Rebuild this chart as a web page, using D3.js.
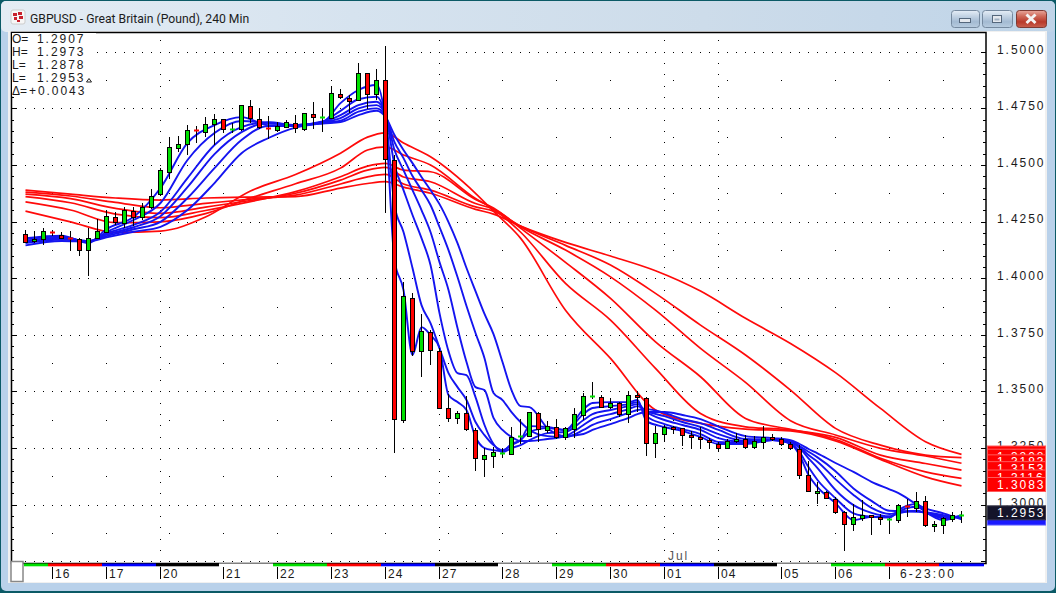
<!DOCTYPE html>
<html lang="en">
<head>
<meta charset="utf-8">
<title>GBPUSD 240 Min</title>
<script src="https://cdn.jsdelivr.net/npm/d3@7"></script>
<style>
  html, body { margin: 0; padding: 0; background: #0b5a66; overflow: hidden; }
  svg { display: block; }
  .mono { font-family: "Liberation Sans", Arial, sans-serif; font-size: 12px; letter-spacing: 1.95px; fill: #1a1a1a; }
  .axis path { display: none; }
  .axis line { stroke: #000; }
</style>
</head>
<body>
<script>
// candles, one value per 4h bar
let opens = [
  1.4194,1.4164,1.4172,1.4202,1.4192,1.4176,1.4172,1.4123,1.4176,1.4202,
  1.4269,1.4242,1.4295,1.4269,1.4313,1.4370,1.4470,1.4576,1.4591,1.4653,
  1.4644,1.4679,1.4701,1.4653,1.4657,1.4759,1.4701,1.4662,1.4653,1.4666,
  1.4684,1.4657,1.4723,1.4706,1.4706,1.4812,1.4794,1.4785,1.4904,1.4812,
  1.4873,1.4520,1.3372,1.3911,1.3677,1.3761,1.3677,1.3425,1.3381,1.3403,
  1.3329,1.3200,1.3213,1.3227,1.3222,1.3297,1.3302,1.3403,1.3328,1.3341,
  1.3297,1.3333,1.3394,1.3475,1.3474,1.3430,1.3447,1.3399,1.3483,1.3470,
  1.3271,1.3311,1.3341,1.3337,1.3306,1.3297,1.3284,1.3266,1.3249,1.3280,
  1.3288,1.3253,1.3275,1.3297,1.3288,1.3266,1.3244,1.3130,1.3053,1.3055,
  1.3024,1.2966,1.2913,1.2940,1.2953,1.2944,1.2931,1.2931,1.2993,1.2984,
  1.3015,1.2904,1.2909,1.2935,1.2948];
let highs = [
  1.4213,1.4208,1.4221,1.4213,1.4202,1.4208,1.4179,1.4220,1.4260,1.4301,
  1.4292,1.4313,1.4313,1.4332,1.4394,1.4486,1.4622,1.4628,1.4676,1.4672,
  1.4711,1.4723,1.4703,1.4684,1.4764,1.4787,1.4750,1.4715,1.4688,1.4697,
  1.4719,1.4729,1.4778,1.4750,1.4847,1.4834,1.4809,1.4950,1.4904,1.4923,
  1.5025,1.4544,1.3983,1.3933,1.3840,1.3770,1.3692,1.3487,1.3415,1.3478,
  1.3337,1.3249,1.3255,1.3249,1.3341,1.3377,1.3409,1.3409,1.3368,1.3377,
  1.3341,1.3425,1.3492,1.3540,1.3484,1.3469,1.3452,1.3499,1.3503,1.3474,
  1.3347,1.3349,1.3349,1.3338,1.3324,1.3341,1.3293,1.3275,1.3288,1.3315,
  1.3306,1.3302,1.3346,1.3311,1.3297,1.3275,1.3262,1.3191,1.3099,1.3059,
  1.3032,1.2971,1.3001,1.3019,1.2954,1.2961,1.2940,1.3001,1.3024,1.3055,
  1.3037,1.2926,1.2944,1.2966,1.2973];
let lows = [
  1.4155,1.4155,1.4148,1.4186,1.4172,1.4121,1.4099,1.4011,1.4172,1.4198,
  1.4235,1.4223,1.4232,1.4257,1.4304,1.4363,1.4436,1.4558,1.4544,1.4598,
  1.4624,1.4588,1.4642,1.4639,1.4651,1.4684,1.4657,1.4613,1.4644,1.4662,
  1.4639,1.4651,1.4657,1.4644,1.4701,1.4790,1.4730,1.4785,1.4745,1.4787,
  1.4289,1.3229,1.3359,1.3655,1.3565,1.3618,1.3421,1.3366,1.3357,1.3326,
  1.3150,1.3121,1.3160,1.3205,1.3222,1.3266,1.3297,1.3275,1.3315,1.3288,
  1.3284,1.3293,1.3372,1.3465,1.3425,1.3421,1.3386,1.3362,1.3410,1.3216,
  1.3207,1.3275,1.3311,1.3258,1.3249,1.3244,1.3249,1.3234,1.3244,1.3271,
  1.3244,1.3244,1.3249,1.3280,1.3258,1.3240,1.3112,1.3055,1.3001,1.3024,
  1.2957,1.2797,1.2885,1.2926,1.2866,1.2909,1.2875,1.2918,1.2944,1.2966,
  1.2900,1.2881,1.2875,1.2922,1.2920];
let closes = [
  1.4161,1.4172,1.4207,1.4198,1.4179,1.4172,1.4123,1.4179,1.4207,1.4273,
  1.4247,1.4300,1.4269,1.4315,1.4361,1.4476,1.4579,1.4591,1.4653,1.4648,
  1.4679,1.4701,1.4657,1.4657,1.4763,1.4706,1.4666,1.4657,1.4670,1.4688,
  1.4662,1.4728,1.4710,1.4710,1.4816,1.4799,1.4783,1.4904,1.4812,1.4873,
  1.4525,1.3377,1.3920,1.3677,1.3765,1.3682,1.3425,1.3381,1.3403,1.3333,
  1.3205,1.3218,1.3231,1.3229,1.3297,1.3302,1.3408,1.3333,1.3346,1.3297,
  1.3337,1.3399,1.3478,1.3478,1.3430,1.3447,1.3399,1.3483,1.3474,1.3271,
  1.3315,1.3341,1.3334,1.3306,1.3297,1.3288,1.3275,1.3249,1.3280,1.3288,
  1.3253,1.3280,1.3297,1.3288,1.3266,1.3249,1.3130,1.3059,1.3059,1.3028,
  1.2966,1.2913,1.2944,1.2953,1.2947,1.2935,1.2935,1.2997,1.2988,1.3015,
  1.2909,1.2913,1.2940,1.2953,1.2953];

// long averages (red), read at these bars, slowest to fastest
let redBars = [0,5,10,15,20,25,30,35,38,40,42,45,50,52,55,60,65,70,75,80,85,90,95,100,104];
let redValues = [
  [1.4389,1.4380,1.4371,1.4360,1.4337,1.4296],
  [1.4371,1.4363,1.4351,1.4333,1.4301,1.4249],
  [1.4354,1.4335,1.4308,1.4283,1.4245,1.4202],
  [1.4345,1.4311,1.4286,1.4267,1.4249,1.4208],
  [1.4354,1.4330,1.4314,1.4299,1.4285,1.4270],
  [1.4358,1.4349,1.4343,1.4338,1.4354,1.4385],
  [1.4360,1.4367,1.4375,1.4382,1.4417,1.4458],
  [1.4398,1.4416,1.4433,1.4448,1.4486,1.4552],
  [1.4418,1.4447,1.4477,1.4495,1.4566,1.4623],
  [1.4426,1.4458,1.4489,1.4507,1.4580,1.4642],
  [1.4402,1.4416,1.4447,1.4477,1.4544,1.4597],
  [1.4375,1.4389,1.4426,1.4470,1.4500,1.4536],
  [1.4304,1.4315,1.4330,1.4348,1.4352,1.4375],
  [1.4283,1.4296,1.4305,1.4310,1.4305,1.4296],
  [1.4230,1.4230,1.4227,1.4221,1.4204,1.4177],
  [1.4158,1.4145,1.4124,1.4070,1.3977,1.3859],
  [1.4098,1.4058,1.4006,1.3911,1.3815,1.3646],
  [1.4033,1.3933,1.3859,1.3719,1.3602,1.3418],
  [1.3943,1.3793,1.3690,1.3565,1.3403,1.3359],
  [1.3823,1.3661,1.3540,1.3381,1.3344,1.3334],
  [1.3712,1.3506,1.3371,1.3333,1.3330,1.3326],
  [1.3583,1.3337,1.3308,1.3297,1.3288,1.3282],
  [1.3425,1.3263,1.3249,1.3219,1.3205,1.3200],
  [1.3278,1.3219,1.3215,1.3182,1.3145,1.3123],
  [1.3222,1.3208,1.3183,1.3153,1.3116,1.3083]];

// short averages (blue), read at these bars, fastest to slowest
let blueBars = [0,4,7,9,12,15,18,21,24,27,30,33,35,37,39,40,41,42,43,44,45,46,47,48,49,50,51,52,53,54,55,56,
  58,60,62,63,65,67,68,69,71,73,75,77,80,83,85,86,87,88,90,92,94,96,97,99,100,102,104];
let blueValues = [
  [1.4177,1.4173,1.4166,1.4162,1.4155,1.4145],
  [1.4188,1.4184,1.4179,1.4175,1.4171,1.4164],
  [1.4155,1.4160,1.4162,1.4164,1.4164,1.4162],
  [1.4217,1.4204,1.4198,1.4192,1.4186,1.4180],
  [1.4270,1.4257,1.4235,1.4225,1.4216,1.4205],
  [1.4398,1.4332,1.4293,1.4274,1.4249,1.4227],
  [1.4597,1.4522,1.4442,1.4402,1.4354,1.4301],
  [1.4676,1.4641,1.4588,1.4548,1.4486,1.4420],
  [1.4711,1.4694,1.4667,1.4645,1.4610,1.4552],
  [1.4676,1.4685,1.4689,1.4687,1.4672,1.4619],
  [1.4676,1.4676,1.4676,1.4674,1.4672,1.4665],
  [1.4689,1.4692,1.4689,1.4687,1.4685,1.4683],
  [1.4773,1.4739,1.4720,1.4707,1.4695,1.4689],
  [1.4831,1.4790,1.4764,1.4750,1.4735,1.4720],
  [1.4853,1.4801,1.4779,1.4764,1.4750,1.4739],
  [1.4689,1.4709,1.4723,1.4721,1.4716,1.4712],
  [1.4080,1.4323,1.4500,1.4566,1.4601,1.4632],
  [1.3948,1.4204,1.4389,1.4477,1.4530,1.4566],
  [1.3661,1.4045,1.4279,1.4389,1.4451,1.4508],
  [1.3784,1.3881,1.4177,1.4301,1.4389,1.4447],
  [1.3749,1.3802,1.4058,1.4204,1.4323,1.4389],
  [1.3692,1.3692,1.3846,1.4071,1.4226,1.4327],
  [1.3484,1.3581,1.3678,1.3948,1.4124,1.4248],
  [1.3453,1.3519,1.3581,1.3780,1.4005,1.4155],
  [1.3418,1.3462,1.3572,1.3630,1.3877,1.4045],
  [1.3299,1.3365,1.3475,1.3519,1.3758,1.3943],
  [1.3250,1.3307,1.3352,1.3506,1.3647,1.3842],
  [1.3241,1.3263,1.3268,1.3383,1.3493,1.3753],
  [1.3237,1.3241,1.3232,1.3330,1.3462,1.3630],
  [1.3268,1.3263,1.3250,1.3299,1.3409,1.3506],
  [1.3285,1.3285,1.3263,1.3281,1.3365,1.3435],
  [1.3347,1.3321,1.3285,1.3281,1.3330,1.3431],
  [1.3343,1.3338,1.3316,1.3290,1.3303,1.3338],
  [1.3330,1.3330,1.3321,1.3303,1.3299,1.3303],
  [1.3422,1.3400,1.3374,1.3352,1.3330,1.3312],
  [1.3449,1.3427,1.3400,1.3378,1.3352,1.3330],
  [1.3453,1.3435,1.3418,1.3400,1.3378,1.3356],
  [1.3453,1.3444,1.3435,1.3422,1.3405,1.3383],
  [1.3462,1.3453,1.3444,1.3435,1.3418,1.3400],
  [1.3369,1.3391,1.3409,1.3413,1.3422,1.3409],
  [1.3343,1.3356,1.3374,1.3391,1.3405,1.3409],
  [1.3325,1.3334,1.3352,1.3365,1.3378,1.3396],
  [1.3299,1.3312,1.3330,1.3343,1.3360,1.3378],
  [1.3268,1.3277,1.3294,1.3312,1.3330,1.3345],
  [1.3268,1.3272,1.3277,1.3281,1.3290,1.3303],
  [1.3285,1.3285,1.3285,1.3285,1.3288,1.3294],
  [1.3268,1.3272,1.3277,1.3279,1.3281,1.3285],
  [1.3219,1.3232,1.3250,1.3256,1.3259,1.3268],
  [1.3131,1.3166,1.3205,1.3219,1.3234,1.3246],
  [1.3078,1.3109,1.3162,1.3190,1.3209,1.3227],
  [1.3007,1.3029,1.3065,1.3113,1.3148,1.3184],
  [1.2932,1.2962,1.2998,1.3043,1.3072,1.3145],
  [1.2947,1.2947,1.2964,1.2986,1.3017,1.3101],
  [1.2944,1.2944,1.2949,1.2959,1.2973,1.3068],
  [1.2976,1.2969,1.2962,1.2966,1.2972,1.3051],
  [1.3003,1.2991,1.2973,1.2972,1.2969,1.3003],
  [1.2969,1.2969,1.2962,1.2964,1.2967,1.2984],
  [1.2932,1.2940,1.2947,1.2950,1.2954,1.2962],
  [1.2954,1.2950,1.2947,1.2944,1.2940,1.2935]];

// axes
let priceLabels = [1.5,1.475,1.45,1.425,1.4,1.375,1.35,1.325,1.3];
let priceMajor = [1.5,1.475,1.45,1.425,1.4,1.375,1.35,1.325,1.3,1.275];
let priceMinor = [1.495,1.49,1.485,1.48,1.47,1.465,1.46,1.455,1.445,1.44,1.435,1.43,1.42,1.415,1.41,1.405,
  1.395,1.39,1.385,1.38,1.37,1.365,1.36,1.355,1.345,1.34,1.335,1.33,1.32,1.315,1.31,1.305,1.295,1.29,1.285,1.28];
let priceMid = [1.4875,1.4625,1.4375,1.4125,1.3875,1.3625,1.3375,1.3125,1.2875];
let dayBars = [3,9,15,22,28,34,40,46,53,59,65,71,77,84,90,96];
let dayLabels = ["16","17","20","21","22","23","24","27","28","29","30","01","04","05","06","6-23:00"];
let stripEnds = [3,9,15,22,28,34,40,46,53,59,65,71,77,84,90,96,102];
let stripColors = ["#00e000","#ff0000","#0000ff","#000000","#ffffff"];
let denseBars = [15,46,71,77];
let sparseBars = [3,9,16,22,28,34,40,47,53,59,65,72,78,84,90,96,102];
let readoutNames = ["O=","H=","L=","L=","Δ="];
let readoutValues = ["1.2907","1.2973","1.2878","1.2953","+0.0043"];
let lastPrice = 1.2953;

let w = 1056, h = 593;

let xScale = d3.scaleLinear().domain([0,104]).range([25.5,961.5]);
let yScale = d3.scaleLinear().domain([1.5,1.3]).range([51.7,504.7]);
let yRound = yScale.copy().interpolate(d3.interpolateRound);

let svg = d3.select("body").append("svg").attr("width",w).attr("height",h);
let defs = svg.append("defs");

function grad(id, stops, horiz) {
  let g = defs.append("linearGradient").attr("id",id)
    .attr("x1",0).attr("y1",0).attr("x2",horiz ? 1 : 0).attr("y2",horiz ? 0 : 1);
  stops.forEach((s,i) => g.append("stop").attr("offset",i/(stops.length-1)).attr("stop-color",s));
}
grad("frame",["#e4ecf4","#d6e3ef","#cddcea","#bfd4e8"],true);
grad("btn",["#e6eef7","#c3d3e4","#a3bad2","#b9cde0"]);
grad("btnClose",["#e8a79c","#cf6a5a","#b8392a","#c8604f"]);

// window frame
svg.append("rect").attr("width",w).attr("height",h).attr("fill","#0b5a66");
svg.append("rect").attr("x",1).attr("y",1).attr("width",w-2).attr("height",h-3).attr("rx",5).attr("fill","#b9d1ea");
svg.append("rect").attr("x",1).attr("y",1).attr("width",w-2).attr("height",31).attr("rx",5).attr("fill","url(#frame)");
svg.append("rect").attr("x",8).attr("y",31).attr("width",1039).attr("height",552).attr("fill","#f0f0f0");
svg.append("rect").attr("x",11).attr("y",32).attr("width",1034).attr("height",550).attr("fill","#fff");

// title + icon
let icon = svg.append("g").attr("transform","translate(11,10)");
icon.append("rect").attr("width",14).attr("height",14).attr("rx",2).attr("fill","#f6f6f6").attr("stroke","#ccc");
[[2,3,4,3],[7,2,4,3],[3,7,3,3],[8,6,4,3],[6,10,3,2]].forEach(b => {
  icon.append("rect").attr("x",b[0]).attr("y",b[1]).attr("width",b[2]).attr("height",b[3]).attr("fill","#c8202c");
});
svg.append("text").attr("x",30).attr("y",22.5)
  .style("font-family",'Roboto, "Open Sans", sans-serif').style("font-size","12.2px").style("fill","#1c1c1c")
  .text("GBPUSD - Great Britain (Pound), 240 Min");

// window buttons
function winButton(x, width, fill, stroke) {
  svg.append("rect").attr("x",x+0.5).attr("y",10.5).attr("width",width).attr("height",17).attr("rx",3)
    .attr("fill",fill).attr("stroke",stroke);
}
winButton(951,28,"url(#btn)","#75899f");
winButton(982,30,"url(#btn)","#75899f");
winButton(1016,30,"url(#btnClose)","#7d3a33");
svg.append("rect").attr("x",959.5).attr("y",18.5).attr("width",11).attr("height",4).attr("fill","#e4e8ee").attr("stroke","#55677c");
svg.append("rect").attr("x",992.5).attr("y",15.5).attr("width",9).attr("height",7).attr("fill","#e4e8ee").attr("stroke","#55677c");
svg.append("rect").attr("x",994.5).attr("y",18.5).attr("width",5).attr("height",2).attr("fill","#9fb0c2");
svg.append("path").attr("d","M1026.5,14.5 L1035.5,23 M1035.5,14.5 L1026.5,23")
  .attr("stroke","#f4f4f4").attr("stroke-width",3).attr("fill","none");

// dotted grid
let gridG = svg.append("g").attr("fill","#000");
function dot(x,y) {
  gridG.append("rect").attr("x",Math.floor(x)).attr("y",Math.round(y)).attr("width",1).attr("height",1);
}
priceMajor.forEach(p => {
  d3.range(-1,106).forEach(b => dot(xScale(b), yRound(p)));
});
denseBars.forEach(b => {
  priceMinor.concat(priceMajor).forEach(p => dot(xScale(b), yRound(p)));
  dot(xScale(b), yRound(1.505));
});
sparseBars.forEach(b => {
  priceMid.forEach(p => dot(xScale(b), yRound(p)));
});

// plot frame
svg.append("rect").attr("x",11.5).attr("y",32.5).attr("width",974.5).attr("height",531)
  .attr("fill","none").attr("stroke","#000").attr("stroke-width",1.5);

// price axes
svg.append("g").attr("class","axis").attr("transform","translate(986,0)")
  .call(d3.axisLeft(yRound).tickValues(priceMajor).tickSize(5).tickFormat(""));
svg.append("g").attr("class","axis").attr("transform","translate(986,0)")
  .call(d3.axisLeft(yRound).tickValues(priceMinor).tickSize(3).tickFormat(""));
svg.append("g").attr("class","axis").attr("transform","translate(12,0)")
  .call(d3.axisRight(yRound).tickValues(priceMajor).tickSize(5).tickFormat(""));
svg.append("g").attr("class","axis").attr("transform","translate(12,0)")
  .call(d3.axisRight(yRound).tickValues(priceMinor).tickSize(2).tickFormat(""));

svg.append("g").selectAll("text").data(priceLabels).enter().append("text")
  .attr("class","mono")
  .attr("x",997)
  .attr("y",d => yScale(d) + 1.8)
  .text(d => d.toFixed(4));

// averages
let redLine = i => d3.line().curve(d3.curveMonotoneX).x((d,k) => xScale(redBars[k])).y(d => yScale(d[i]));
let blueLine = i => d3.line().curve(d3.curveMonotoneX).x((d,k) => xScale(blueBars[k])).y(d => yScale(d[i]));

d3.range(6).forEach(i => {
  svg.append("path").attr("d",redLine(i)(redValues)).attr("fill","none").attr("stroke","#ff0a0a").attr("stroke-width",1.7);
});
d3.range(6).forEach(i => {
  svg.append("path").attr("d",blueLine(i)(blueValues)).attr("fill","none").attr("stroke","#1414f0").attr("stroke-width",1.9);
});

// candles
let bars = closes.map((c,i) => ({i:i, o:opens[i], h:highs[i], l:lows[i], c:c}));

svg.append("g").selectAll("line").data(bars).enter().append("line")
  .attr("x1",d => xScale(d.i)).attr("x2",d => xScale(d.i))
  .attr("y1",d => Math.round(yScale(d.h))).attr("y2",d => Math.round(yScale(d.l)))
  .attr("stroke","#000").attr("stroke-width",1);

let bodies = svg.append("g").selectAll("rect").data(bars).enter().append("rect");
bodies.each(function(d) {
  let top = Math.round(yScale(Math.max(d.o,d.c)));
  let bot = Math.round(yScale(Math.min(d.o,d.c)));
  let col = d.c >= d.o ? "#00e000" : "#ff0000";
  let sel = d3.select(this);
  if (bot - top < 2) {
    // flat bar: plain coloured dash
    sel.attr("x",xScale(d.i)-2.5).attr("y",top-0.5).attr("width",5).attr("height",2).attr("fill",col);
  } else {
    sel.attr("x",xScale(d.i)-2).attr("y",top+0.5).attr("width",4).attr("height",bot-top)
      .attr("fill",col).attr("stroke","#000").attr("stroke-width",1);
  }
});

// last value tags on the price scale
function tag(v, fill, stroke, txt) {
  let t = yScale(v) - 8.4;
  svg.append("rect").attr("x",987.5).attr("y",t).attr("width",58).attr("height",14)
    .attr("fill",fill).attr("stroke",stroke);
  if (txt) {
    svg.append("text").attr("class","mono").attr("x",997).attr("y",t + 11.5).style("fill","#fff").text(v.toFixed(4));
  }
}
redValues[redValues.length-1].forEach(v => tag(v,"#ff0000","#ff5a5a",true));
blueValues[blueValues.length-1].slice().sort(d3.descending).forEach(v => tag(v,"#1a1aff","#5a5aff",false));
tag(lastPrice + 0.0005,"#14142a","#3a3a4a",false);
svg.append("text").attr("class","mono").attr("x",997).attr("y",yScale(lastPrice) + 1.8)
  .style("fill","#fff").text(lastPrice.toFixed(4));

// readout top left
svg.append("rect").attr("x",12).attr("y",33).attr("width",84).attr("height",63).attr("fill","#fff");
readoutNames.forEach((n,i) => {
  svg.append("text").attr("class","mono").attr("x",12).attr("y",43 + i*13).style("letter-spacing","0").text(n);
  svg.append("text").attr("class","mono").attr("x",i == 4 ? 29 : 37).attr("y",43 + i*13).text(readoutValues[i]);
});
svg.append("path").attr("d","M86.5,82 L89,78.5 L91.5,82 Z").attr("fill","#fff").attr("stroke","#222");

// bottom strip
let stripEdges = [24].concat(stripEnds.map(b => xScale(b) - 4.5)).concat([984]);
d3.pairs(stripEdges).forEach((p,i) => {
  svg.append("rect").attr("x",p[0]).attr("y",563.5).attr("width",p[1]-p[0]).attr("height",2.8)
    .attr("fill",stripColors[i % stripColors.length]);
});
svg.append("rect").attr("x",11).attr("y",561.5).attr("width",12).attr("height",20)
  .attr("fill","#fff").attr("stroke","#888").attr("stroke-width",1.5);

// day ticks
let xAxis = d3.axisBottom(xScale).tickValues(dayBars).tickSize(12).tickFormat((d,i) => dayLabels[i]);
let xg = svg.append("g").attr("class","axis").attr("transform","translate(0,567)").call(xAxis);
xg.selectAll("line").attr("transform","translate(-0.5,0)");
xg.selectAll("text")
  .attr("class","mono")
  .attr("text-anchor","start")
  .attr("x",(d,i) => i == dayBars.length-1 ? 10 : 2)
  .attr("y",11)
  .attr("dy",0)
  .style("letter-spacing",(d,i) => i == dayBars.length-1 ? "2.2px" : "1.2px");

svg.append("text").attr("class","mono").attr("x",668).attr("y",560).style("fill","#555").text("Jul");
</script>
</body>
</html>
